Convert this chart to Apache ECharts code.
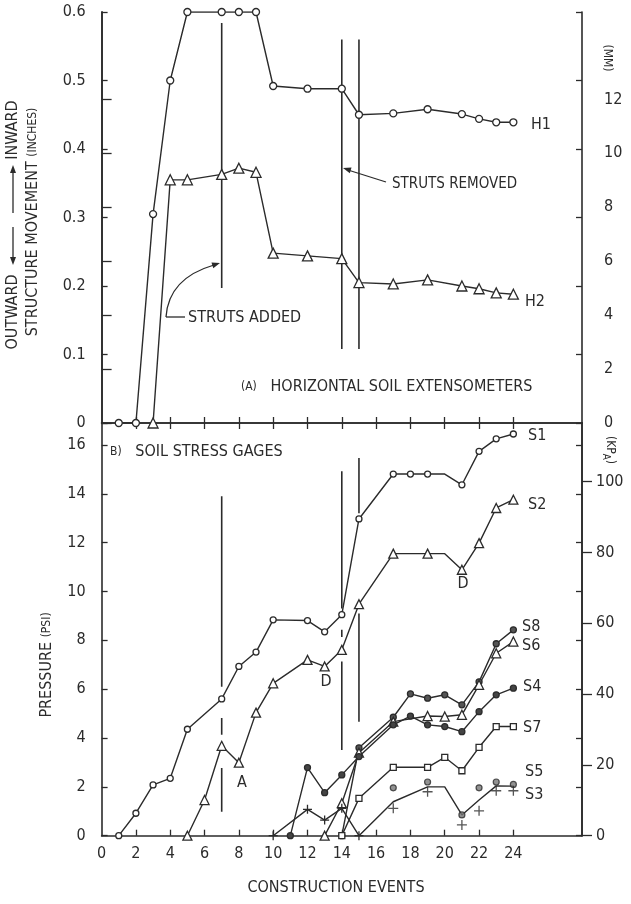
<!DOCTYPE html>
<html><head><meta charset="utf-8">
<script src="https://cdn.jsdelivr.net/npm/echarts@6/dist/echarts.min.js"></script>
<style>html,body{margin:0;padding:0;background:#fff}#c{width:631px;height:904px}</style>
</head><body><div id="c"></div>
<script>
// ---------- DATA ----------
// (A) Horizontal soil extensometers, structure movement (inches)
const h1X = [1,2,3,4,5,7,8,9,10,12,14,15,17,19,21,22,23,24];
const h1Y = [0,0,0.305,0.50,0.60,0.60,0.60,0.60,0.492,0.488,0.488,0.45,0.452,0.458,0.451,0.444,0.439,0.439];
const h2X = [3,4,5,7,8,9,10,12,14,15,17,19,21,22,23,24];
const h2Y = [0,0.355,0.355,0.363,0.372,0.366,0.248,0.244,0.240,0.205,0.203,0.209,0.200,0.196,0.190,0.188];
// (B) Soil stress gages, pressure (psi)
const s1X = [1,2,3,4,5,7,8,9,10,12,13,14,15,17,18,19,20,21,22,23,24];
const s1Y = [0,0.92,2.08,2.35,4.36,5.6,6.93,7.52,8.84,8.81,8.35,9.05,12.97,14.81,14.81,14.81,14.81,14.37,15.74,16.25,16.45];
const s2X = [5,6,7,8,9,10,12,13,14,15,17,19,20,21,22,23,24];
const s2Y = [0,1.46,3.68,2.99,5.04,6.24,7.2,6.93,7.61,9.48,11.55,11.55,11.55,10.89,11.98,13.42,13.76];
const s8X = [14,15,17,18,19,20,21,22,23,24];
const s8Y = [0,3.6,4.85,5.81,5.63,5.77,5.36,6.3,7.86,8.43];
const s6X = [13,14,15,17,19,20,21,22,23,24];
const s6Y = [0,1.33,3.4,4.67,4.9,4.88,4.95,6.18,7.47,7.95];
const s4X = [11,12,13,14,15,17,18,19,20,21,22,23,24];
const s4Y = [0,2.79,1.76,2.49,3.24,4.54,4.9,4.54,4.47,4.26,5.08,5.77,6.04];
const s7X = [14,15,17,19,20,21,22,23,24];
const s7Y = [0,1.53,2.8,2.8,3.21,2.66,3.62,4.47,4.47];
const s5X = [17,19,21,22,23,24];
const s5Y = [1.96,2.2,0.85,1.96,2.2,2.1];
const s3X = [10,12,13,14,15,17,19,20,21,22,23,24];
const s3Y = [0,1.08,0.64,1.12,0,1.39,2.0,2.0,0.85,1.46,2.04,2.03];
const s3ReadX = [17,19,21,22,23,24];
const s3ReadY = [1.12,1.8,0.44,1.02,1.84,1.84];
// strut event lines: [event, fromValue, toValue]
const strutTop = [[7,0.584,0.197],[14,0.56,0.108],[15,0.56,0.108]];
const strutBottom = [[7,13.9,6.1],[7,4.82,4.13],[7,2.77,0.98],[14,14.92,9.3],[14,8.43,8.14],[14,7.13,3.51],[15,15.47,13.2],[15,9.1,4.67]];
// axes
const xTickVals = [2,4,6,8,10,12,14,16,18,20,22,24];
const xLabelVals = [0,2,4,6,8,10,12,14,16,18,20,22,24];
const psiVals = [0,2,4,6,8,10,12,14,16];
const mmVals = [0,2,4,6,8,10,12];
const kpaVals = [0,20,40,60,80,100];
const inMax = 0.6, psiMax = 16.9;

// ---------- CHART ----------
const INK = '#2b2b2b';
const FONT = "'Liberation Sans Narrow','DejaVu Sans Condensed','Roboto Condensed',sans-serif";
const chart = echarts.init(document.getElementById('c'));
const pairs = (xs, ys) => xs.map((x,i)=>[x, ys[i]]);
const withHidden = (xs, ys, keep) => xs.map((x,i)=> keep(x) ? [x, ys[i]] : {value:[x, ys[i]], symbol:'none'});

const GL = 101.6, GW = 480.4;
const lbl = {fontFamily: FONT, fontSize: 16, color: INK};
const axLine = {lineStyle:{color: INK, width: 1.6}};

function xAx(grid, pos, labels){
  return {type:'value', gridIndex:grid, position:pos, min:0, max:28, interval:2,
    axisLine: axLine, splitLine:{show:false},
    axisTick:{show:true, inside:true, length:6, customValues:xTickVals, lineStyle:{color:INK, width:1.3}},
    axisLabel: labels ? Object.assign({show:true, margin:10, customValues:xLabelVals}, lbl) : {show:false}};
}
function yAx(grid, pos, max, interval, opts){
  const o = {type:'value', gridIndex:grid, position:pos, min:0, max:max, interval:interval,
    axisLine: axLine, splitLine:{show:false},
    axisTick:{show:true, inside:true, length:6, lineStyle:{color:INK, width:1.3}},
    axisLabel:{show:false}};
  return Object.assign(o, opts||{});
}

const lineBase = (name, xi, yi, data, symbol, size, fill) => ({
  name, type:'line', xAxisIndex:xi, yAxisIndex:yi, data, symbol, symbolSize:size,
  showAllSymbol:true, z:5,
  lineStyle:{color:INK, width:1.4},
  itemStyle:{color:fill||'#fff', borderColor:INK, borderWidth:1.3},
  emphasis:{disabled:true}, animation:false
});
const crossPath = 'path://M5,0 L5,10 M0,5 L10,5';

const series = [
  lineBase('H1',0,0,pairs(h1X,h1Y),'circle',7),
  lineBase('H2',0,0,pairs(h2X,h2Y),'triangle',10),
  lineBase('S1',2,3,withHidden(s1X,s1Y,x=>x!==20),'circle',6),
  lineBase('S2',2,3,withHidden(s2X,s2Y,x=>x!==20),'triangle',9),
  lineBase('S8',2,3,pairs(s8X,s8Y),'circle',6,'#555'),
  lineBase('S6',2,3,pairs(s6X,s6Y),'triangle',9),
  lineBase('S4',2,3,pairs(s4X,s4Y),'circle',6,'#444'),
  lineBase('S7',2,3,pairs(s7X,s7Y),'rect',6),
  lineBase('S3',2,3,withHidden(s3X,s3Y,x=>x<=15),crossPath,9,'none'),
  {name:'S5', type:'scatter', xAxisIndex:2, yAxisIndex:3, data:pairs(s5X,s5Y), symbol:'circle', symbolSize:6,
   itemStyle:{color:'#777', borderColor:INK, borderWidth:1.2}, z:6, animation:false},
  {name:'S3 readings', type:'scatter', xAxisIndex:2, yAxisIndex:3, data:pairs(s3ReadX,s3ReadY), symbol:crossPath, symbolSize:10,
   itemStyle:{color:'none', borderColor:INK, borderWidth:1.3}, z:6, animation:false}
];
strutTop.forEach(s => series.push({type:'line', xAxisIndex:0, yAxisIndex:0, data:[[s[0],s[1]],[s[0],s[2]]],
  symbol:'none', lineStyle:{color:INK, width:1.6}, z:2, animation:false, silent:true}));
strutBottom.forEach(s => series.push({type:'line', xAxisIndex:2, yAxisIndex:3, data:[[s[0],s[1]],[s[0],s[2]]],
  symbol:'none', lineStyle:{color:INK, width:1.6}, z:2, animation:false, silent:true}));

// ---------- annotations (layout only) ----------
function head(tx, ty, fx, fy){
  const dx = tx-fx, dy = ty-fy, L = Math.hypot(dx,dy), ux = dx/L, uy = dy/L;
  const bx = tx-ux*8, by = ty-uy*8, nx = -uy*3, ny = ux*3;
  return {type:'polygon', shape:{points:[[tx,ty],[bx+nx,by+ny],[bx-nx,by-ny]]}, style:{fill:INK}, silent:true};
}
const T = (text, x, y, o) => ({type:'text', x, y, rotation:(o&&o.rot)||0, silent:true,
  style:Object.assign({text, fill:INK, font:`${(o&&o.size)||16}px ${FONT}`, align:(o&&o.align)||'left', verticalAlign:'middle'}, (o&&o.style)||{})});
const richT = (text, x, y, rich, rot, align) => ({type:'text', x, y, rotation:rot||0, silent:true,
  style:{text, rich, fill:INK, fontFamily:FONT, align:align||'center', verticalAlign:'middle'}});
const R = {a:{fontSize:16, fontFamily:FONT, fill:INK}, s:{fontSize:12, fontFamily:FONT, fill:INK}, sub:{fontSize:10, fontFamily:FONT, fill:INK, padding:[8,0,0,0]}};

const graphic = [
  // struts added
  {type:'line', shape:{x1:166,y1:317,x2:185,y2:317}, style:{stroke:INK, lineWidth:1.3}, silent:true},
  {type:'bezierCurve', shape:{x1:166,y1:317,cpx1:168,cpy1:287,cpx2:190,cpy2:272,x2:214,y2:265}, style:{stroke:INK, lineWidth:1.3, fill:null}, silent:true},
  head(220,263,204,268),
  T('STRUTS ADDED', 188, 318),
  // struts removed
  {type:'line', shape:{x1:386,y1:182,x2:348,y2:170}, style:{stroke:INK, lineWidth:1.3}, silent:true},
  head(343,168,360,173),
  T('STRUTS REMOVED', 392, 184, {size:15}),
  richT('{s|(A)}{a|   HORIZONTAL SOIL EXTENSOMETERS}', 241, 387, R, 0, 'left'),
  richT('{s|B)}{a|   SOIL STRESS GAGES}', 110, 452, R, 0, 'left'),
  T('H1', 531, 125), T('H2', 525, 302),
  T('S1', 528, 436), T('S2', 528, 505), T('S8', 522, 627), T('S6', 522, 646),
  T('S4', 523, 687), T('S7', 523, 728), T('S5', 525, 772), T('S3', 525, 795),
  T('A', 242, 783, {align:'center'}), T('D', 326, 682, {align:'center'}), T('D', 463, 584, {align:'center'}),
  // axis titles
  richT('{s|(MM)}', 607, 58, R, -Math.PI/2),
  richT('{s|(KP}{sub|A}{s|)}', 610, 450, R, -Math.PI/2),
  richT('{a|STRUCTURE MOVEMENT }{s|(INCHES)}', 33, 222, R, Math.PI/2),
  richT('{a|PRESSURE }{s|(PSI)}', 47, 665, R, Math.PI/2),
  T('OUTWARD', 13, 312, {rot:Math.PI/2, align:'center'}),
  T('INWARD', 13, 130, {rot:Math.PI/2, align:'center'}),
  {type:'line', shape:{x1:13,y1:213,x2:13,y2:172}, style:{stroke:INK, lineWidth:1.3}, silent:true},
  head(13,165,13,180),
  {type:'line', shape:{x1:13,y1:227,x2:13,y2:258}, style:{stroke:INK, lineWidth:1.3}, silent:true},
  head(13,265,13,250),
  T('CONSTRUCTION EVENTS', 336, 888, {align:'center'})
];

const option = {
  backgroundColor:'#ffffff',
  animation:false,
  grid:[
    {left:GL, top:12, width:GW, height:411},
    {left:GL, top:423, width:GW, height:412.7}
  ],
  xAxis:[ xAx(0,'bottom',false), xAx(0,'top',false), xAx(1,'bottom',true) ],
  yAxis:[
    yAx(0,'left',inMax,0.1,{axisLabel:Object.assign({show:true, margin:16, formatter:v=> v===0?'0':v.toFixed(1)}, lbl)}),
    yAx(0,'right',inMax*25.4,2,{axisTick:{show:true, inside:false, length:10, customValues:mmVals, lineStyle:{color:INK,width:1.3}},
        axisLabel:Object.assign({show:true, margin:22, customValues:mmVals}, lbl)}),
    yAx(0,'right',inMax,0.1),
    yAx(1,'left',psiMax,2,{axisTick:{show:true, inside:true, length:6, customValues:psiVals, lineStyle:{color:INK,width:1.3}},
        axisLabel:Object.assign({show:true, margin:16, customValues:psiVals}, lbl)}),
    yAx(1,'right',psiMax*6.895,20,{axisTick:{show:true, inside:false, length:10, customValues:kpaVals, lineStyle:{color:INK,width:1.3}},
        axisLabel:Object.assign({show:true, margin:14, customValues:kpaVals}, lbl)}),
    yAx(1,'right',psiMax,2,{axisTick:{show:true, inside:true, length:6, customValues:psiVals, lineStyle:{color:INK,width:1.3}}})
  ],
  series,
  graphic
};
chart.setOption(option);
</script>
</body></html>
